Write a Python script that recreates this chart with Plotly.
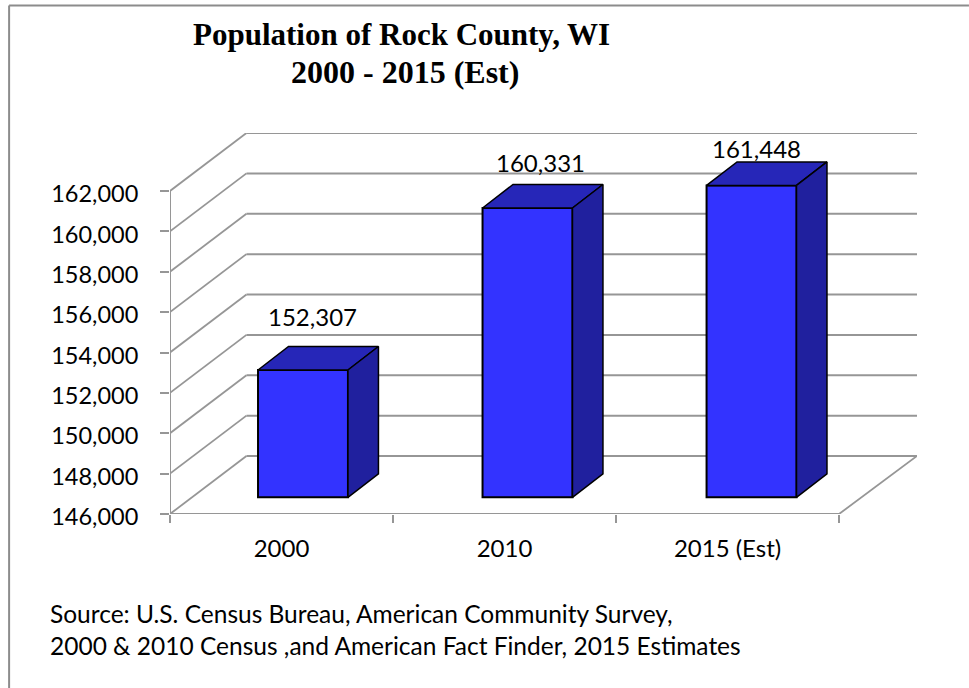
import plotly.graph_objects as go

categories = ["2000", "2010", "2015 (Est)"]
population = [152307, 160331, 161448]
y_ticks = [146000, 148000, 150000, 152000, 154000, 156000, 158000, 160000, 162000]
title_lines = ["Population of Rock County, WI", "2000 - 2015 (Est)"]
source_lines = ["Source: U.S. Census Bureau, American Community Survey,",
                "2000 & 2010 Census ,and American Fact Finder, 2015 Estimates"]

W, H = 969, 688
L, R, B, T = 169.5, 917.0, 514.0, 133.0
cat_px = (839.0 - 169.5) / 3
unit_px = (514.0 - 191.0) / 16000.0
x0 = -0.5
x1 = x0 + (R - L) / cat_px
y0 = y_ticks[0]
y1 = y0 + (B - T) / unit_px


def px_x(p):
    return p / cat_px


def px_y(p):
    return p / unit_px


wall_dx, wall_dy = px_x(76.5), px_y(58)
bar_w = px_x(90)
bar_off_px = [21.5, 23, 24]
bar_off_y = px_y(16.7)
depth_dx, depth_dy = px_x(30.5), px_y(23.5)
grid_color = "#969696"
edge = "#000000"
front_col, top_col, side_col = "#3333FF", "#2626B8", "#20209E"
font_body = "Lato, Carlito, sans-serif"
body_size = 24

fig = go.Figure()

# Front faces as real bars
xc = [i + px_x(bar_off_px[i]) for i in range(len(categories))]
base = y0 + bar_off_y
fig.add_trace(go.Bar(x=xc, y=[v - y0 for v in population], base=base, width=bar_w,
                     marker=dict(color=front_col, line=dict(color=edge, width=2)),
                     showlegend=False, hoverinfo="skip"))

# Depth faces
for i, v in enumerate(population):
    l, r = xc[i] - bar_w / 2, xc[i] + bar_w / 2
    top = v + bar_off_y
    fig.add_trace(go.Scatter(x=[l, r, r + depth_dx, l + depth_dx, l],
                             y=[top, top, top + depth_dy, top + depth_dy, top],
                             mode="lines", fill="toself", fillcolor=top_col,
                             line=dict(color=edge, width=1.5), showlegend=False, hoverinfo="skip"))
    fig.add_trace(go.Scatter(x=[r, r + depth_dx, r + depth_dx, r, r],
                             y=[top, top + depth_dy, base + depth_dy, base, top],
                             mode="lines", fill="toself", fillcolor=side_col,
                             line=dict(color=edge, width=1.5), showlegend=False, hoverinfo="skip"))

# Data labels (hand-placed in the source chart)
label_dx = [9.5, 12.5, 4.5]
label_dy = [53, 45, 37]
annotations = []
for i, v in enumerate(population):
    annotations.append(dict(x=xc[i], y=v + bar_off_y, xref="x", yref="y", text=f"{v:,}",
                            showarrow=False, xshift=label_dx[i], yshift=label_dy[i],
                            font=dict(family=font_body, size=body_size, color="#000000")))

# Walls, floor and frame lines drawn beneath the bars
shapes = []
for t in y_ticks:
    shapes.append(dict(type="line", xref="x", yref="y", x0=x0, x1=x0 + wall_dx, y0=t, y1=t + wall_dy,
                       line=dict(color=grid_color, width=1.8), layer="below"))
    shapes.append(dict(type="line", xref="x", yref="y", x0=x0 + wall_dx, x1=x1, y0=t + wall_dy, y1=t + wall_dy,
                       line=dict(color=grid_color, width=2), layer="below"))
shapes.append(dict(type="line", xref="x", yref="y", x0=x0, x1=x0, y0=y_ticks[0], y1=y_ticks[-1],
                   line=dict(color=grid_color, width=2), layer="below"))
shapes.append(dict(type="line", xref="x", yref="y", x0=x0, x1=x0 + 3, y0=y0, y1=y0,
                   line=dict(color=grid_color, width=2), layer="below"))
shapes.append(dict(type="line", xref="x", yref="y", x0=x0 + 3, x1=x1, y0=y0, y1=y0 + wall_dy,
                   line=dict(color=grid_color, width=1.8), layer="below"))
# Outer frame
fx = (8.5 - L) / (R - L)
fy = (B - 5.5) / (B - T)
shapes.append(dict(type="line", xref="paper", yref="paper", x0=fx, x1=fx,
                   y0=(B - H) / (B - T), y1=fy, line=dict(color="#8c8c8c", width=2), layer="below"))
shapes.append(dict(type="line", xref="paper", yref="paper", x0=fx, x1=(W - L) / (R - L),
                   y0=fy, y1=fy, line=dict(color="#8c8c8c", width=2), layer="below"))

# Title and source as paper-anchored text
for line, cx, cy, fs in zip(title_lines, [401, 405], [34.5, 71.5], [31, 32]):
    annotations.append(dict(x=(cx - L) / (R - L), y=(B - cy) / (B - T), xref="paper", yref="paper",
                            text=f"<b>{line}</b>", showarrow=False, xanchor="center", yanchor="middle",
                            font=dict(family="Liberation Serif, serif", size=fs, color="#000000")))
for line, cy in zip(source_lines, [613, 645]):
    annotations.append(dict(x=(47 - L) / (R - L), y=(B - cy) / (B - T), xref="paper", yref="paper",
                            text=line, showarrow=False, xanchor="left", yanchor="middle",
                            font=dict(family=font_body, size=24.5, color="#000000")))

fig.update_layout(
    width=W, height=H, margin=dict(l=L, r=W - R, t=T, b=H - B, pad=0, autoexpand=False),
    paper_bgcolor="#ffffff", plot_bgcolor="rgba(0,0,0,0)", showlegend=False,
    annotations=annotations, shapes=shapes, barmode="overlay",
    xaxis=dict(range=[x0, x1], tickmode="array", tickvals=list(range(3)), ticktext=categories,
               ticks="", showgrid=False, zeroline=False, showline=False, ticklabelstandoff=18,
               tickfont=dict(family=font_body, size=body_size, color="#000000"),
               minor=dict(tickmode="array", tickvals=[x0 + i for i in range(4)], ticks="outside",
                          ticklen=8, tickwidth=2, tickcolor=grid_color, showgrid=False)),
    yaxis=dict(range=[y0, y1], tickmode="array", tickvals=y_ticks, tickformat=",",
               ticks="outside", ticklen=9, tickwidth=2, tickcolor=grid_color,
               showgrid=False, zeroline=False, showline=False, ticklabelstandoff=17,
               ticklabelshift=3,
               tickfont=dict(family=font_body, size=23.5, color="#000000")),
)

fig.write_html("out.html", config=dict(displayModeBar=False),
               post_script="document.body.style.margin='0';document.body.style.overflow='hidden';")
